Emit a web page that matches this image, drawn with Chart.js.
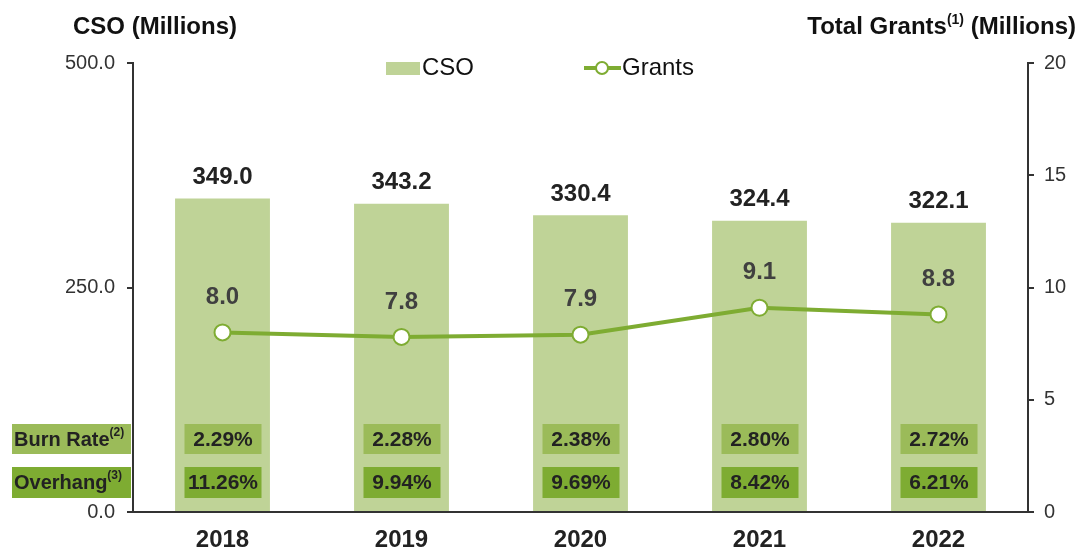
<!DOCTYPE html>
<html>
<head>
<meta charset="utf-8">
<script src="https://cdn.jsdelivr.net/npm/chart.js@4/dist/chart.umd.min.js"></script>
<style>
  body { margin: 0; background: #fff; }
  #wrap { width: 1083px; height: 550px; }
</style>
</head>
<body>
<div id="wrap"><canvas id="mycanvas" width="1083" height="550"></canvas></div>
<script>
var years = ['2018', '2019', '2020', '2021', '2022'];
var cso = [349.0, 343.2, 330.4, 324.4, 322.1];
var grants = [8.0, 7.8, 7.9, 9.1, 8.8];
var burnRate = ['2.29%', '2.28%', '2.38%', '2.80%', '2.72%'];
var overhang = ['11.26%', '9.94%', '9.69%', '8.42%', '6.21%'];
var leftTicks = [0, 250, 500];
var rightTicks = [0, 5, 10, 15, 20];

var barColor = '#bfd397';
var burnColor = '#9bbb59';
var overColor = '#7eac32';
var lineColor = '#7eac32';
var font = 'Liberation Sans, Arial, sans-serif';

// titles, legend, value labels and the burn rate / overhang boxes
var extras = {
  id: 'extras',
  afterDatasetsDraw: function(chart) {
    var ctx = chart.ctx;
    var xs = chart.scales.x, yl = chart.scales.y, yr = chart.scales.y1;
    var area = chart.chartArea;
    ctx.save();

    // axis titles
    ctx.fillStyle = '#111';
    ctx.textBaseline = 'middle';
    ctx.font = 'bold 24px ' + font;
    ctx.textAlign = 'left';
    ctx.fillText('CSO (Millions)', 73, 27);
    var t1 = 'Total Grants', t2 = ' (Millions)';
    ctx.textAlign = 'right';
    ctx.fillText(t2, 1076, 27);
    var w2 = ctx.measureText(t2).width;
    ctx.font = 'bold 14px ' + font;
    var sup = '(1)';
    var ws = ctx.measureText(sup).width;
    ctx.fillText(sup, 1076 - w2, 20);
    ctx.font = 'bold 24px ' + font;
    ctx.fillText(t1, 1076 - w2 - ws, 27);

    // legend
    ctx.fillStyle = barColor;
    ctx.fillRect(386, 62, 34, 13);
    ctx.fillStyle = '#111';
    ctx.font = '24px ' + font;
    ctx.textAlign = 'left';
    ctx.fillText(chart.data.datasets[0].label, 422, 68);
    ctx.strokeStyle = lineColor;
    ctx.lineWidth = 4;
    ctx.beginPath(); ctx.moveTo(584, 68); ctx.lineTo(621, 68); ctx.stroke();
    ctx.beginPath(); ctx.arc(602, 68, 6, 0, Math.PI * 2);
    ctx.fillStyle = '#fff'; ctx.fill();
    ctx.lineWidth = 2; ctx.stroke();
    ctx.fillStyle = '#111';
    ctx.fillText(chart.data.datasets[1].label, 622, 68);

    // value labels
    ctx.textAlign = 'center';
    ctx.font = 'bold 24px ' + font;
    for (var i = 0; i < years.length; i++) {
      var x = xs.getPixelForValue(i);
      ctx.fillStyle = '#222';
      ctx.fillText(cso[i].toFixed(1), x, yl.getPixelForValue(cso[i]) - 21);
      ctx.fillStyle = '#404040';
      ctx.fillText(grants[i].toFixed(1), x, yr.getPixelForValue(grants[i]) - 35);
    }

    // row boxes
    var rows = [
      { name: 'Burn Rate', sup: '(2)', vals: burnRate, color: burnColor, top: area.bottom - 88, h: 30 },
      { name: 'Overhang', sup: '(3)', vals: overhang, color: overColor, top: area.bottom - 45, h: 31 }
    ];
    rows.forEach(function(r) {
      ctx.fillStyle = r.color;
      ctx.fillRect(12, r.top, 119, r.h);
      ctx.fillStyle = '#222';
      ctx.textAlign = 'left';
      ctx.font = 'bold 20px ' + font;
      ctx.fillText(r.name, 14, r.top + 16);
      var w = ctx.measureText(r.name).width;
      ctx.font = 'bold 12px ' + font;
      ctx.fillText(r.sup, 14 + w, r.top + 9);
      ctx.textAlign = 'center';
      ctx.font = 'bold 21px ' + font;
      for (var i = 0; i < r.vals.length; i++) {
        var x = xs.getPixelForValue(i);
        ctx.fillStyle = r.color;
        ctx.fillRect(x - 38, r.top, 77, r.h);
        ctx.fillStyle = '#222';
        ctx.fillText(r.vals[i], x + 0.5, r.top + 16);
      }
    });
    ctx.restore();
  }
};

var chartdata = {
  labels: years,
  datasets: [
    {
      type: 'bar',
      label: 'CSO',
      data: cso,
      yAxisID: 'y',
      backgroundColor: barColor,
      barPercentage: 0.53,
      categoryPercentage: 1.0,
      order: 1
    },
    {
      type: 'line',
      label: 'Grants',
      data: grants,
      yAxisID: 'y1',
      borderColor: lineColor,
      borderWidth: 4,
      pointRadius: 8,
      pointBorderWidth: 2,
      pointBackgroundColor: '#fff',
      pointBorderColor: lineColor,
      tension: 0,
      order: 0
    }
  ]
};

var tickFont = { family: font, size: 20 };

var barGraph = new Chart(document.getElementById('mycanvas'), {
  data: chartdata,
  plugins: [extras],
  options: {
    responsive: false,
    animation: false,
    events: [],
    layout: { padding: { top: 63, left: 0, right: 0, bottom: 0 } },
    plugins: { legend: { display: false }, tooltip: { enabled: false } },
    scales: {
      x: {
        grid: { display: false, drawTicks: false },
        border: { color: '#333', width: 2 },
        ticks: { color: '#222', font: { family: font, size: 24, weight: 'bold' }, padding: 14 },
        afterFit: function(s) { s.height = 38; }
      },
      y: {
        position: 'left',
        min: 0, max: 500,
        afterBuildTicks: function(s) { s.ticks = leftTicks.map(function(v) { return { value: v }; }); },
        grid: { display: true, drawOnChartArea: false, tickLength: 6, color: '#333', lineWidth: 2 },
        border: { color: '#333', width: 2 },
        ticks: { color: '#333', font: tickFont, padding: 12, callback: function(v) { return v.toFixed(1); } },
        afterFit: function(s) { s.width = 133; }
      },
      y1: {
        position: 'right',
        min: 0, max: 20,
        afterBuildTicks: function(s) { s.ticks = rightTicks.map(function(v) { return { value: v }; }); },
        grid: { display: true, drawOnChartArea: false, tickLength: 6, color: '#333', lineWidth: 2 },
        border: { color: '#333', width: 2 },
        ticks: { color: '#333', font: tickFont, padding: 10 },
        afterFit: function(s) { s.width = 55; }
      }
    }
  }
});
</script>
</body>
</html>
